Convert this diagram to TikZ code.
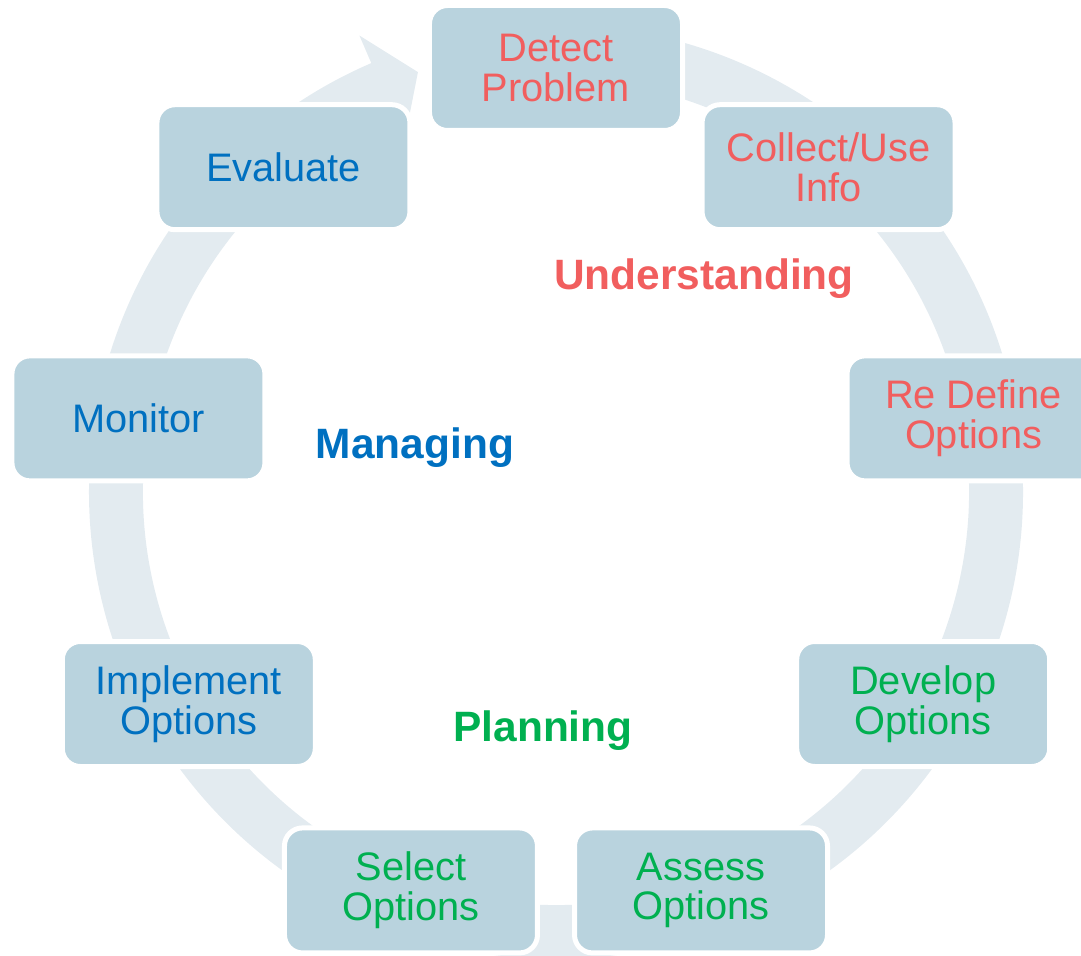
\documentclass[tikz,border=0pt]{standalone}
\usepackage{fontspec}
\setmainfont{Liberation Sans}
\definecolor{boxfill}{RGB}{185,211,222}
\definecolor{ringfill}{RGB}{227,235,240}
\definecolor{understand}{RGB}{241,94,94}
\definecolor{manage}{RGB}{0,112,192}
\definecolor{plan}{RGB}{0,176,80}
\begin{document}
\begin{tikzpicture}

\newcommand{\rrr}{10.6}
\clip (-13.9,-11.575) rectangle (13.125,12.3);

    \fill[ringfill] (95:11.675) arc[start angle=95, end angle=-246.7, radius=11.675]
      -- (113.3:12.425) -- (108.2:11.05) -- (113.3:9.575) -- (113.3:10.325)
      arc[start angle=-246.7, end angle=95, radius=10.325] -- cycle;

\tikzstyle{every node}= [rectangle, rounded corners=0.45cm, fill=boxfill, draw=white, line width=0.125cm,
  minimum width=6.325cm, minimum height=3.125cm, inner sep=0pt, align=center,
  font=\fontsize{28.3}{28.4}\selectfont];
    \foreach \a/\n/\t/\c in {90/detect/{Detect\\Problem}/understand,
      50/collect/{Collect/Use\\Info}/understand,
      10/redefine/{Re Define\\Options}/understand,
      -30/develop/{Develop\\Options}/plan,
      -70/assess/{Assess\\Options}/plan,
      -110/select/{Select\\Options}/plan,
      -150/implement/{Implement\\Options}/manage,
      170/monitor/{Monitor}/manage,
      130/evaluate/{Evaluate}/manage}{
        \node[text=\c](\n) at (\a:\rrr) {\t};
    }

\tikzstyle{every node}= [font=\fontsize{30.2}{31}\selectfont\bfseries];
    \node[text=understand](understanding) at (3.7,5.33) {Understanding};
    \node[text=manage](managing) at (-3.525,1.12) {Managing};
    \node[text=plan](planning) at (-0.325,-5.97) {Planning};

  \end{tikzpicture}
\end{document}
